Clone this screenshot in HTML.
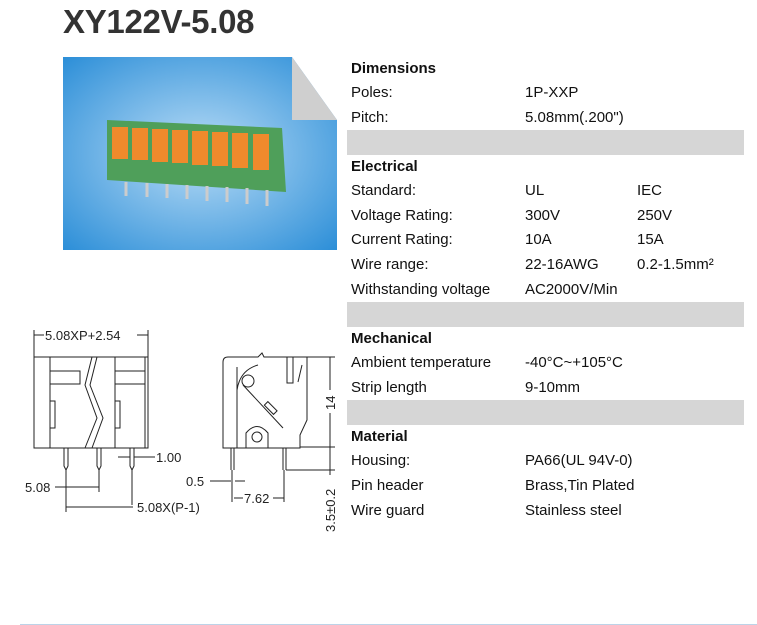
<!DOCTYPE html>
<html><head><meta charset="utf-8"><style>
body{margin:0;width:757px;height:625px;background:#fff;position:relative;overflow:hidden;font-family:"Liberation Sans",Arial,sans-serif;}
.t{position:absolute;left:63px;top:3px;font-size:33px;font-weight:bold;color:#333;letter-spacing:-0.3px}
.r{position:absolute;font-size:15px;color:#111;white-space:nowrap;line-height:18px}
.b{font-weight:bold}
.bar{position:absolute;left:347px;width:397px;height:25px;background:#d6d6d6}
</style></head><body>
<div class="t">XY122V-5.08</div>
<svg style="position:absolute;left:0;top:0" width="757" height="625">
<defs><radialGradient id="g" cx="0.5" cy="0.5" r="0.7"><stop offset="0" stop-color="#b9dcf6"/><stop offset="1" stop-color="#2d8fd8"/></radialGradient></defs>
<polygon points="63,57 292,57 337,120 337,250 63,250" fill="url(#g)"/>
<polygon points="292,57 337,120 292,120" fill="#cfcfcf"/>
<polygon points="107,120 282,128 286,192 107,180" fill="#4f9f5a"/>
<g fill="#f08a2c">
<rect x="112" y="127" width="16" height="32"/><rect x="132" y="128" width="16" height="32"/><rect x="152" y="129" width="16" height="33"/><rect x="172" y="130" width="16" height="33"/><rect x="192" y="131" width="16" height="34"/><rect x="212" y="132" width="16" height="34"/><rect x="232" y="133" width="16" height="35"/><rect x="253" y="134" width="16" height="36"/></g>
<g stroke="#ccc" stroke-width="3"><line x1="126" y1="182" x2="126" y2="196"/><line x1="147" y1="183" x2="147" y2="197"/><line x1="167" y1="184" x2="167" y2="198"/><line x1="187" y1="185" x2="187" y2="199"/><line x1="207" y1="186" x2="207" y2="201"/><line x1="227" y1="187" x2="227" y2="202"/><line x1="247" y1="188" x2="247" y2="204"/><line x1="267" y1="190" x2="267" y2="206"/></g>
<line x1="20" y1="624.5" x2="757" y2="624.5" stroke="#bcd3e8" stroke-width="1"/>
<g stroke="#222" stroke-width="1" fill="none">
<!-- left drawing -->
<line x1="34" y1="330" x2="34" y2="357"/><line x1="148" y1="330" x2="148" y2="357"/>
<line x1="34" y1="335" x2="44" y2="335"/><line x1="137" y1="335" x2="148" y2="335"/>
<rect x="34" y="357" width="114" height="91"/>
<line x1="50" y1="357" x2="50" y2="448"/><line x1="115" y1="357" x2="115" y2="448"/><line x1="145" y1="357" x2="145" y2="448"/>
<rect x="50" y="371" width="30" height="13"/><rect x="115" y="371" width="30" height="13"/>
<polyline points="50,401 55,401 55,428 50,428"/><polyline points="115,401 120,401 120,428 115,428"/>
<polyline points="92,357 85,385 97,418 85,448"/><polyline points="97,357 90,385 103,418 92,448"/>
<path d="M64,448 L64,466 L66,470 L68,466 L68,448"/><path d="M97,448 L97,466 L99,470 L101,466 L101,448"/><path d="M130,448 L130,466 L132,470 L134,466 L134,448"/>
<line x1="66" y1="470" x2="66" y2="512"/><line x1="99" y1="470" x2="99" y2="492"/><line x1="132" y1="470" x2="132" y2="505"/>
<line x1="118" y1="457" x2="130" y2="457"/><line x1="134" y1="457" x2="155" y2="457"/>
<line x1="55" y1="487" x2="99" y2="487"/><line x1="66" y1="507" x2="133" y2="507"/>
<!-- right drawing -->
<path d="M223,362 Q223,357 228,357 L258,357 L262,353 L264,357 L307,357 L307,420 L300,435 L300,448 L223,448 Z"/>
<path d="M237,367 L237,448 M237,390 Q240,370 258,365"/>
<circle cx="248" cy="381" r="6"/>
<line x1="243" y1="385" x2="283" y2="428"/>
<rect x="268" y="402" width="5" height="13" transform="rotate(-45 270 408)"/>
<path d="M246,448 L246,433 Q257,420 268,433 L268,448"/><circle cx="257" cy="437" r="5"/>
<path d="M287,357 L287,383 L293,383 L293,357"/><path d="M302,365 L298,382"/>
<line x1="283" y1="448" x2="283" y2="470"/><line x1="286" y1="448" x2="286" y2="470"/>
<line x1="231" y1="448" x2="231" y2="470"/><line x1="234" y1="448" x2="234" y2="470"/>
<line x1="232" y1="470" x2="232" y2="502"/><line x1="284" y1="470" x2="284" y2="502"/>
<line x1="210" y1="481" x2="231" y2="481"/><line x1="235" y1="481" x2="245" y2="481"/>
<line x1="234" y1="498" x2="243" y2="498"/><line x1="273" y1="498" x2="284" y2="498"/>
<line x1="307" y1="357" x2="335" y2="357"/><line x1="300" y1="447" x2="335" y2="447"/><line x1="286" y1="470" x2="335" y2="470"/>
<line x1="330" y1="357" x2="330" y2="390"/><line x1="330" y1="413" x2="330" y2="475"/>
</g>
<g font-family="Liberation Sans,Arial,sans-serif" font-size="13" fill="#222">
<text x="45" y="340">5.08XP+2.54</text>
<text x="156" y="462">1.00</text>
<text x="25" y="492">5.08</text>
<text x="137" y="512">5.08X(P-1)</text>
<text x="186" y="486">0.5</text>
<text x="244" y="503">7.62</text>
<text transform="translate(335,410) rotate(-90)">14</text>
<text transform="translate(335,532) rotate(-90)">3.5±0.2</text>
</g>
</svg>
<div class="bar" style="top:130px"></div>
<div class="bar" style="top:302px"></div>
<div class="bar" style="top:400px"></div>
<div class="r b" style="left:351px;top:60px">Dimensions</div>
<div class="r" style="left:351px;top:84px">Poles:</div><div class="r" style="left:525px;top:84px">1P-XXP</div>
<div class="r" style="left:351px;top:109px">Pitch:</div><div class="r" style="left:525px;top:109px">5.08mm(.200")</div>
<div class="r b" style="left:351px;top:158px">Electrical</div>
<div class="r" style="left:351px;top:182px">Standard:</div><div class="r" style="left:525px;top:182px">UL</div><div class="r" style="left:637px;top:182px">IEC</div>
<div class="r" style="left:351px;top:207px">Voltage Rating:</div><div class="r" style="left:525px;top:207px">300V</div><div class="r" style="left:637px;top:207px">250V</div>
<div class="r" style="left:351px;top:231px">Current Rating:</div><div class="r" style="left:525px;top:231px">10A</div><div class="r" style="left:637px;top:231px">15A</div>
<div class="r" style="left:351px;top:256px">Wire range:</div><div class="r" style="left:525px;top:256px">22-16AWG</div><div class="r" style="left:637px;top:256px">0.2-1.5mm²</div>
<div class="r" style="left:351px;top:281px">Withstanding voltage</div><div class="r" style="left:525px;top:281px">AC2000V/Min</div>
<div class="r b" style="left:351px;top:330px">Mechanical</div>
<div class="r" style="left:351px;top:354px">Ambient temperature</div><div class="r" style="left:525px;top:354px">-40°C~+105°C</div>
<div class="r" style="left:351px;top:379px">Strip length</div><div class="r" style="left:525px;top:379px">9-10mm</div>
<div class="r b" style="left:351px;top:428px">Material</div>
<div class="r" style="left:351px;top:452px">Housing:</div><div class="r" style="left:525px;top:452px">PA66(UL 94V-0)</div>
<div class="r" style="left:351px;top:477px">Pin header</div><div class="r" style="left:525px;top:477px">Brass,Tin Plated</div>
<div class="r" style="left:351px;top:502px">Wire guard</div><div class="r" style="left:525px;top:502px">Stainless steel</div>
</body></html>
